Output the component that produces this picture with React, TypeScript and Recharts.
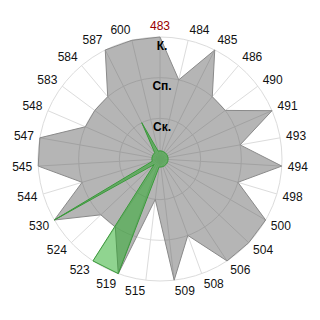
import React from 'react';
import { RadarChart, Radar, PolarGrid, PolarAngleAxis, PolarRadiusAxis } from 'recharts';

const categories = ['483','484','485','486','490','491','493','494','498','500','504','506','508','509','515','519','523','524','530','544','545','547','548','583','584','587','600'];
const grayValues = [3,2,3,2,2,3,2,3,2,3,3,3,2,3,1,3,2,2,3,2,3,3,2,2,2,3,3];
const greenValues = [0.2,0.2,0.2,0.2,0.2,0.2,0.2,0.2,0.2,0.2,0.2,0.2,0.2,0.2,0.2,3,3,0.2,3,0.2,0.2,0.2,0.2,0.2,0.2,1,0.2];
const radiusTicks = [0,1,2,3];
const radiusLabels = ['', 'Ск.', 'Сп.', 'К.'];
const highlightCategory = '483';

const data = categories.map((c, i) => ({ cat: c, gray: grayValues[i], green: greenValues[i] }));

const CX = 160;
const CY = 159;
const R = 122;
const FONT = 'Liberation Sans, Arial, sans-serif';

const AngleTick = (props: any) => {
  const { payload } = props;
  const ang = (payload.coordinate * Math.PI) / 180;
  const cos = Math.cos(ang);
  const sin = Math.sin(ang);
  const rl = R + 6;
  const x = CX + rl * cos;
  const y = CY - rl * sin - sin * 5;
  const anchor = cos > 0.05 ? 'start' : cos < -0.05 ? 'end' : 'middle';
  return (
    <text x={x} y={y} textAnchor={anchor} dominantBaseline="central" fontSize={12} fontFamily={FONT}
      fill={payload.value === highlightCategory ? '#990000' : '#111'}>
      {payload.value}
    </text>
  );
};

const RadiusTick = (props: any) => {
  const { y, payload } = props;
  const idx = radiusTicks.indexOf(payload.value);
  const label = radiusLabels[idx] || '';
  if (!label) return null;
  return (
    <text x={CX + 2} y={y + 12.5} textAnchor="middle" fontSize={12} fontWeight="bold" fontFamily={FONT} fill="#000">
      {label}
    </text>
  );
};

export default function App() {
  return (
    <div style={{ position: 'absolute', left: 0, top: 0, width: 320, height: 320, background: '#fff' }}>
      <RadarChart width={320} height={320} data={data} cx={CX} cy={CY} outerRadius={R} margin={{ top: 0, right: 0, bottom: 0, left: 0 }}>
        <PolarGrid gridType="circle" stroke="#dcdcdc" strokeWidth={1} />
        <PolarAngleAxis dataKey="cat" tick={<AngleTick />} tickLine={false} axisLine={false} />
        <Radar dataKey="gray" stroke="#8a8a8a" strokeWidth={1} fill="#5a5a5a" fillOpacity={0.45} isAnimationActive={false} dot={false} />
        <Radar dataKey="green" stroke="#3a9a3a" strokeWidth={1} fill="#22aa22" fillOpacity={0.5} isAnimationActive={false} dot={false} />
        <PolarRadiusAxis angle={90} domain={[0, 3]} ticks={radiusTicks} tickCount={4} tick={<RadiusTick />} axisLine={false} tickLine={false} />
      </RadarChart>
    </div>
  );
}
